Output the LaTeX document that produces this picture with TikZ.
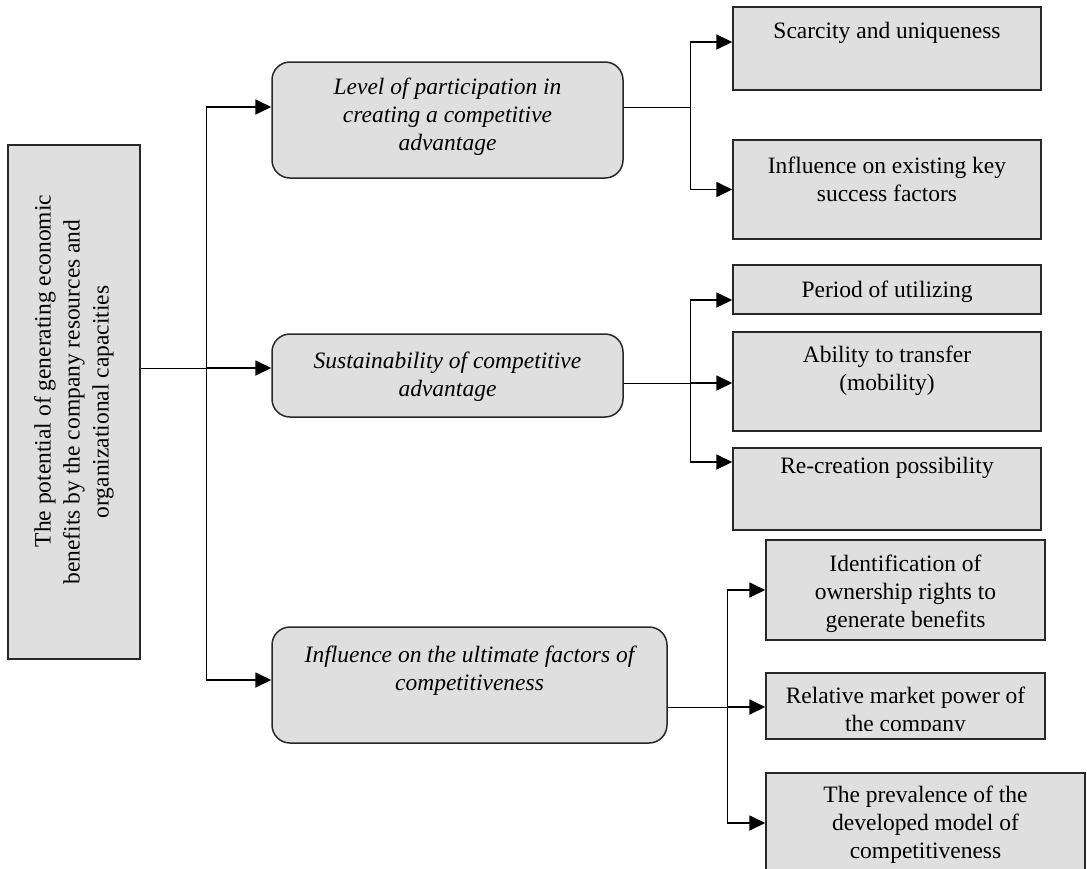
\documentclass[tikz,border=0pt]{standalone}
\usepackage{fontspec}
\setmainfont{Liberation Serif}
\usetikzlibrary{arrows.meta}

\definecolor{boxGray}{RGB}{223,223,223}
\definecolor{edgeGray}{RGB}{40,40,40}

\tikzset{
    rootbox/.style={draw=edgeGray, line width=1.5pt, fill=boxGray},
    factorbox/.style={draw=edgeGray, line width=1.5pt, fill=boxGray, rounded corners=18pt},
    itembox/.style={draw=edgeGray, line width=1.5pt, fill=boxGray},
    boxtext/.style={align=center, inner sep=0pt, font=\fontsize{23.5}{28}\selectfont},
    factortext/.style={align=center, inner sep=0pt, font=\fontsize{23.5}{28}\selectfont\itshape},
    plain/.style={line width=1pt},
    link/.style={line width=1.8pt, -{Triangle[length=16pt,width=15pt]}}
}

\begin{document}
\begin{tikzpicture}[x=1pt, y=-1pt]

    % page size
    \useasboundingbox (0,0) rectangle (1087,868);
    \clip (0,0) rectangle (1087,868);

    % root
    \node[rootbox, minimum width=132pt, minimum height=514pt,
        label={[boxtext, rotate=90, font=\fontsize{23.5}{29}\selectfont]center:{\hspace*{62pt}The potential of generating economic\\benefits by the company resources and\\organizational capacities}}] (root) at (74,402) {};

    % factors
    \node[factorbox, minimum width=351pt, minimum height=116pt,
        label={[factortext, yshift=3pt]center:{Level of participation in\\creating a competitive\\advantage}}] (mid1) at (447.5,120) {};
    \node[factorbox, minimum width=351pt, minimum height=83pt,
        label={[factortext, yshift=-1.5pt]center:{Sustainability of competitive\\advantage}}] (mid2) at (447.5,375.5) {};
    \node[factorbox, minimum width=395pt, minimum height=116pt,
        label={[factortext, yshift=14pt]center:{Influence on the ultimate factors of\\competitiveness}}] (mid3) at (469.5,685) {};

    % items of level 1
    \node[itembox, minimum width=308pt, minimum height=83pt,
        label={[boxtext, yshift=15.5pt]center:Scarcity and uniqueness}] (scarce) at (887,48.5) {};
    \node[itembox, minimum width=308pt, minimum height=99pt,
        label={[boxtext, yshift=10.5pt]center:{Influence on existing key\\success factors}}] (keyfac) at (887,189.5) {};

    % items of level 2
    \node[itembox, minimum width=308pt, minimum height=49pt,
        label={[boxtext, yshift=-2pt]center:Period of utilizing}] (period) at (887,289.5) {};
    \node[itembox, minimum width=308pt, minimum height=99pt,
        label={[boxtext, yshift=10.5pt]center:{Ability to transfer\\(mobility)}}] (transfer) at (887,381.5) {};
    \node[itembox, minimum width=308pt, minimum height=82pt,
        label={[boxtext, yshift=21pt]center:Re-creation possibility}] (recreate) at (887,489) {};

    % items of level 3
    \node[itembox, minimum width=279pt, minimum height=100pt,
        label={[boxtext, yshift=-4pt]center:{Identification of\\ownership rights to\\generate benefits}}] (ident) at (905.5,590) {};
    \node[itembox, minimum width=279pt, minimum height=66pt,
        path picture={
            \clip ([yshift=9pt]path picture bounding box.south west) rectangle (path picture bounding box.north east);
            \node[boxtext] at ([yshift=-5.5pt]path picture bounding box.center) {Relative market power of\\the company};
        }] (market) at (905.5,706) {};
    \node[itembox, minimum width=319pt, minimum height=107pt,
        label={[boxtext, yshift=1.5pt]center:{The prevalence of the\\developed model of\\competitiveness}}] (prevail) at (925.5,826.5) {};

    % entry and exit points
    \coordinate (mid1-in) at ([yshift=13pt]mid1.west);
    \coordinate (mid2-in) at ([yshift=7.5pt]mid2.west);
    \coordinate (mid3-in) at ([yshift=5pt]mid3.west);
    \coordinate (mid1-out) at ([yshift=13pt]mid1.east);
    \coordinate (mid2-out) at ([yshift=-7.5pt]mid2.east);
    \coordinate (mid3-out) at ([yshift=-22pt]mid3.east);
    \coordinate (scarce-in) at ([yshift=6.5pt]scarce.west);
    \coordinate (keyfac-in) at (keyfac.west);
    \coordinate (period-in) at ([yshift=-10.5pt]period.west);
    \coordinate (transfer-in) at ([yshift=-1.5pt]transfer.west);
    \coordinate (recreate-in) at ([yshift=27pt]recreate.west);
    \coordinate (ident-in) at (ident.west);
    \coordinate (market-in) at ([yshift=-1pt]market.west);
    \coordinate (prevail-in) at ([yshift=3.5pt]prevail.west);

    % forks
    \coordinate (trunk) at (206,0);
    \coordinate (forkA) at (690,0);
    \coordinate (forkB) at (727,0);

    % root to factors
    \draw[plain] (root.east |- mid2-in) -- (trunk |- mid2-in);
    \draw[plain] (trunk |- mid1-in) -- (trunk |- mid3-in);
    \foreach \m in {mid1,mid2,mid3}
        \draw[link] (trunk |- \m-in) -- (\m-in);

    % factors to items
    \draw[plain] (mid1-out) -- (forkA |- mid1-out);
    \draw[plain] (forkA |- scarce-in) -- (forkA |- keyfac-in);
    \foreach \t in {scarce,keyfac}
        \draw[link] (forkA |- \t-in) -- (\t-in);

    \draw[plain] (mid2-out) -- (forkA |- mid2-out);
    \draw[plain] (forkA |- period-in) -- (forkA |- recreate-in);
    \foreach \t in {period,transfer,recreate}
        \draw[link] (forkA |- \t-in) -- (\t-in);

    \draw[plain] (mid3-out) -- (forkB |- mid3-out);
    \draw[plain] (forkB |- ident-in) -- (forkB |- prevail-in);
    \foreach \t in {ident,market,prevail}
        \draw[link] (forkB |- \t-in) -- (\t-in);

\end{tikzpicture}
\end{document}
